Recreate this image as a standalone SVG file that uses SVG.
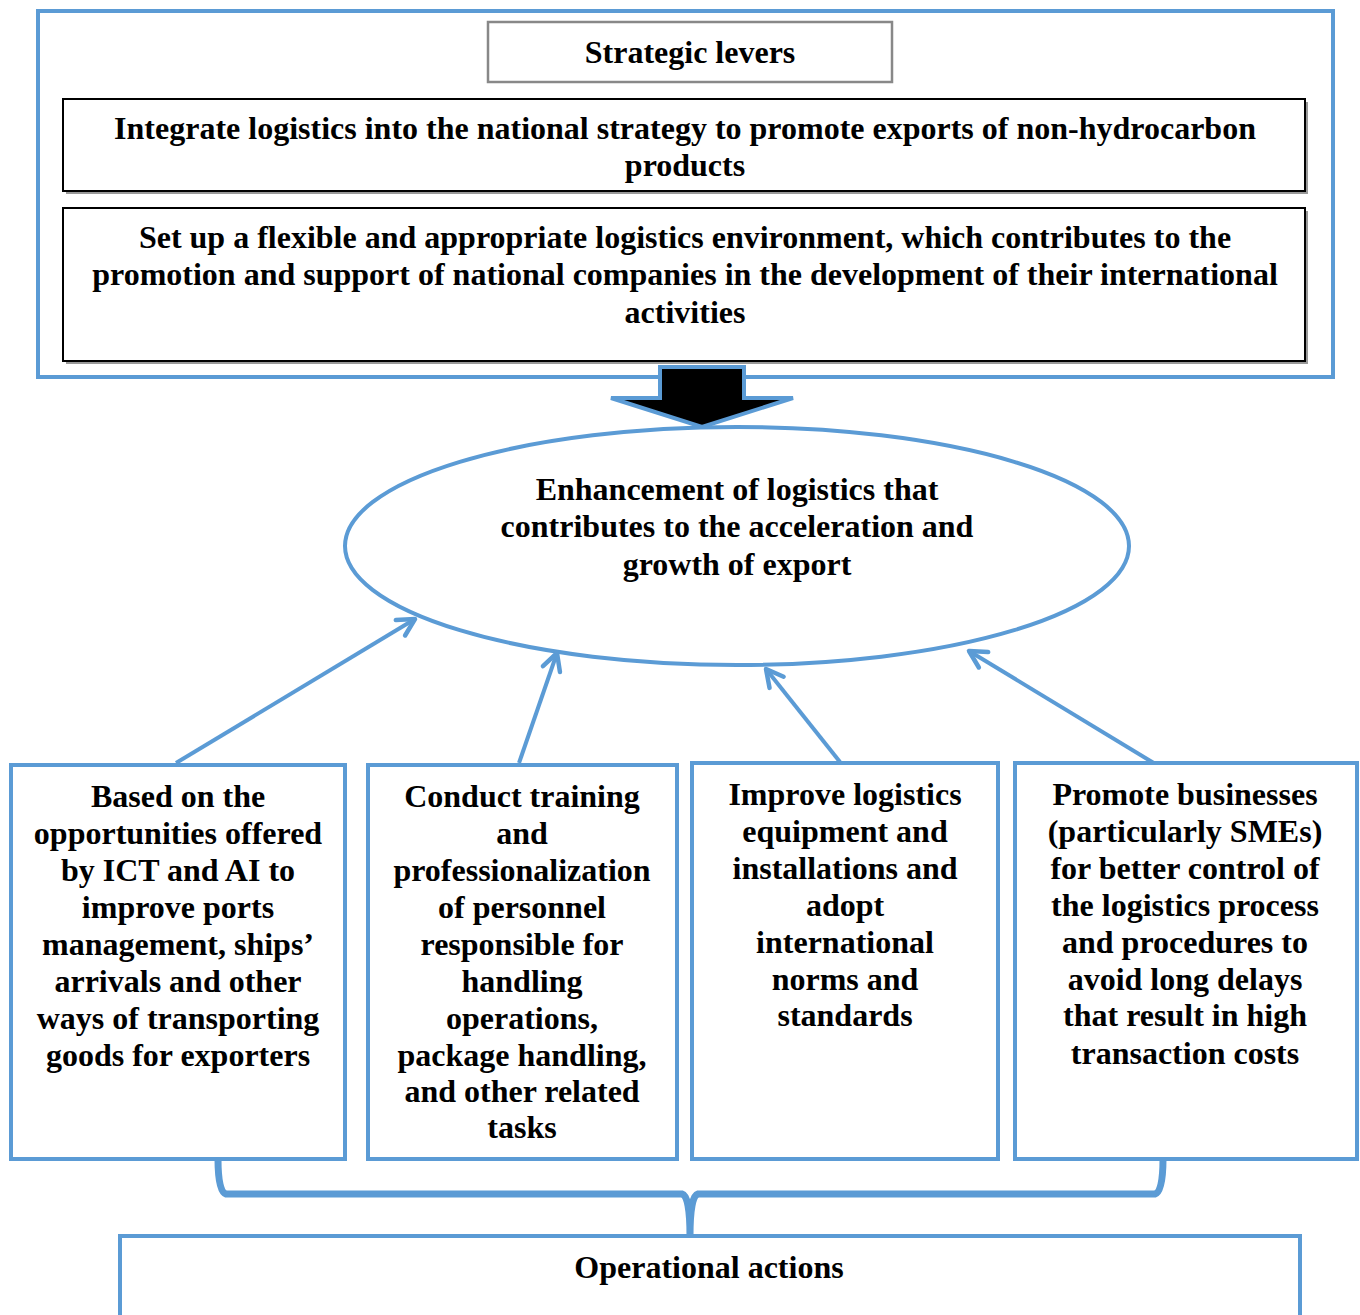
<svg xmlns="http://www.w3.org/2000/svg" width="1360" height="1315" viewBox="0 0 1360 1315">
<style>
  text { font-family: "Liberation Serif", "Times New Roman", serif; font-weight: bold; font-size: 32px; fill: #000; text-anchor: middle; }
  .blue { fill: none; stroke: #5B9BD5; stroke-width: 4; }
  .box { fill: #fff; stroke: #5B9BD5; stroke-width: 4; }
  .conn { fill: none; stroke: #5B9BD5; stroke-width: 4; }
</style>
<defs>
  <marker id="open" markerWidth="24" markerHeight="24" refX="20" refY="12" orient="auto" markerUnits="userSpaceOnUse" viewBox="0 0 24 24">
    <path d="M3,3 L20,12 L3,21" fill="none" stroke="#5B9BD5" stroke-width="4.5" stroke-linecap="round" stroke-linejoin="round"/>
  </marker>
</defs>
<rect width="1360" height="1315" fill="#fff"/>

<g id="strategic-frame">
  <rect class="blue" x="38" y="11" width="1295" height="366"/>
</g>
<g id="strategic-levers">
  <rect x="488" y="22" width="404" height="60" fill="#fff" stroke="#888" stroke-width="2.5"/>
  <text x="690" y="63">Strategic levers</text>
</g>
<g id="lever-1">
  <rect x="66" y="102" width="1242" height="92" fill="#999"/>
  <rect x="63" y="99" width="1242" height="92" fill="#fff" stroke="#000" stroke-width="2"/>
  <text x="685" y="139">Integrate logistics into the national strategy to promote exports of non-hydrocarbon</text>
  <text x="685" y="176">products</text>
</g>
<g id="lever-2">
  <rect x="66" y="211" width="1242" height="153" fill="#999"/>
  <rect x="63" y="208" width="1242" height="153" fill="#fff" stroke="#000" stroke-width="2"/>
  <text x="685" y="248">Set up a flexible and appropriate logistics environment, which contributes to the</text>
  <text x="685" y="285">promotion and support of national companies in the development of their international</text>
  <text x="685" y="323">activities</text>
</g>

<g id="block-arrow">
  <path d="M660,367 L744,367 L744,398 L793,398 L702,427 L611,398 L660,398 Z" fill="#000" stroke="#5B9BD5" stroke-width="4" stroke-linejoin="miter"/>
</g>

<g id="goal">
  <ellipse cx="737" cy="546" rx="392" ry="119" fill="#fff" stroke="#5B9BD5" stroke-width="4"/>
  <text x="737" y="500">Enhancement of logistics that</text>
  <text x="737" y="537">contributes to the acceleration and</text>
  <text x="737" y="575">growth of export</text>
</g>

<g id="connectors">
  <line class="conn" x1="176" y1="763" x2="415" y2="619" marker-end="url(#open)"/>
  <line class="conn" x1="519" y1="763" x2="557" y2="653" marker-end="url(#open)"/>
  <line class="conn" x1="840" y1="762" x2="766" y2="669" marker-end="url(#open)"/>
  <line class="conn" x1="1157" y1="765" x2="969" y2="651" marker-end="url(#open)"/>
  <path d="M218,1159 Q218,1192 226,1194 L682,1194 Q690,1196 690,1236 Q690,1196 698,1194 L1155,1194 Q1163,1192 1163,1159" fill="none" stroke="#5B9BD5" stroke-width="7" stroke-linejoin="round"/>
</g>

<g id="action-1">
  <rect class="box" x="11" y="765" width="334" height="394"/>
  <text x="178" y="807">Based on the</text>
  <text x="178" y="844">opportunities offered</text>
  <text x="178" y="881">by ICT and AI to</text>
  <text x="178" y="918">improve ports</text>
  <text x="178" y="955">management, ships’</text>
  <text x="178" y="992">arrivals and other</text>
  <text x="178" y="1029">ways of transporting</text>
  <text x="178" y="1066">goods for exporters</text>
</g>
<g id="action-2">
  <rect class="box" x="368" y="765" width="309" height="394"/>
  <text x="522" y="807">Conduct training</text>
  <text x="522" y="844">and</text>
  <text x="522" y="881">professionalization</text>
  <text x="522" y="918">of personnel</text>
  <text x="522" y="955">responsible for</text>
  <text x="522" y="992">handling</text>
  <text x="522" y="1029">operations,</text>
  <text x="522" y="1066">package handling,</text>
  <text x="522" y="1102">and other related</text>
  <text x="522" y="1138">tasks</text>
</g>
<g id="action-3">
  <rect class="box" x="692" y="763" width="306" height="396"/>
  <text x="845" y="805">Improve logistics</text>
  <text x="845" y="842">equipment and</text>
  <text x="845" y="879">installations and</text>
  <text x="845" y="916">adopt</text>
  <text x="845" y="953">international</text>
  <text x="845" y="990">norms and</text>
  <text x="845" y="1026">standards</text>
</g>
<g id="action-4">
  <rect class="box" x="1015" y="763" width="342" height="396"/>
  <text x="1185" y="805">Promote businesses</text>
  <text x="1185" y="842">(particularly SMEs)</text>
  <text x="1185" y="879">for better control of</text>
  <text x="1185" y="916">the logistics process</text>
  <text x="1185" y="953">and procedures to</text>
  <text x="1185" y="990">avoid long delays</text>
  <text x="1185" y="1026">that result in high</text>
  <text x="1185" y="1064">transaction costs</text>
</g>

<g id="operational-actions">
  <rect class="box" x="120" y="1236" width="1180" height="100"/>
  <text x="709" y="1278">Operational actions</text>
</g>
</svg>
